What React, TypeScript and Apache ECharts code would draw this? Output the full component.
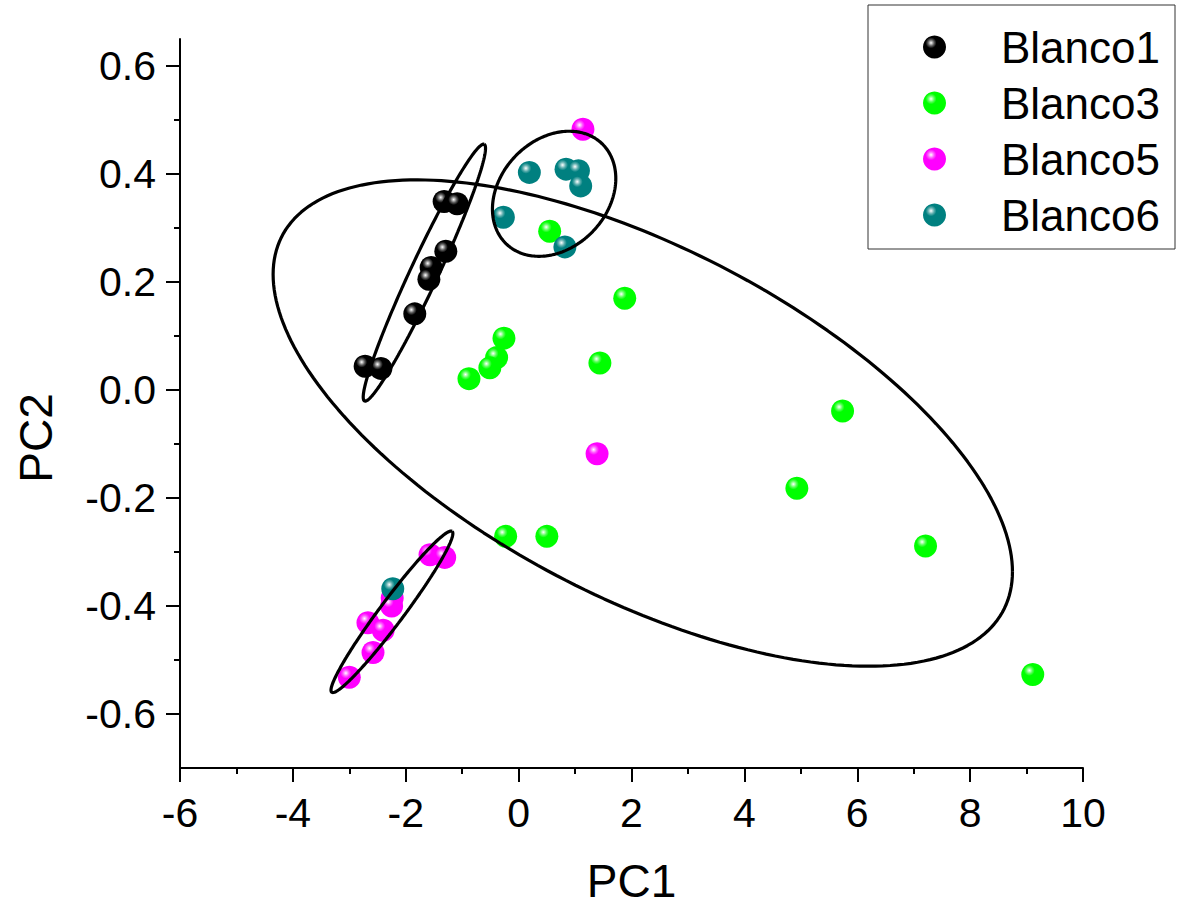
import React, { useEffect, useRef } from "react";
import * as echarts from "echarts";

// ---- data ----
const seriesNames = ["Blanco1", "Blanco3", "Blanco5", "Blanco6"];
const seriesColors = ["#000000", "#00ff00", "#ff00ff", "#008080"];

const blanco1X = [-1.32, -1.09, -1.29, -1.55, -1.59, -1.84, -2.72, -2.44];
const blanco1Y = [0.349, 0.345, 0.257, 0.227, 0.205, 0.141, 0.044, 0.04];

const blanco3X = [0.55, 1.88, -0.26, -0.39, -0.51, -0.88, 1.44, 5.74, 4.93, 7.21, 9.11, -0.23, 0.5];
const blanco3Y = [0.294, 0.17, 0.096, 0.06, 0.041, 0.021, 0.05, -0.039, -0.182, -0.289, -0.527, -0.271, -0.271];

const blanco5X = [1.14, 1.39, -1.57, -1.31, -2.24, -2.25, -2.67, -2.4, -2.58, -3.0];
const blanco5Y = [0.483, -0.118, -0.305, -0.31, -0.385, -0.4, -0.431, -0.445, -0.486, -0.532];

const blanco6X = [0.19, 0.84, 1.06, 1.1, -0.27, 0.82, -2.23];
const blanco6Y = [0.403, 0.409, 0.406, 0.378, 0.32, 0.265, -0.368];

// confidence ellipses: centre and two conjugate semi-axis vectors (data units)
const ellipseCX = [2.2, -1.67, 0.629, -2.245];
const ellipseCY = [-0.0612, 0.2173, 0.3634, -0.4108];
const ellipseUX = [6.55, 1.06, 1.0928, 1.0662];
const ellipseUY = [-0.2752, 0.2377, 0.0283, 0.149];
const ellipseVX = [0, 0.2251, 0, 0.1706];
const ellipseVY = [-0.3564, -0.01081, -0.1123, -0.01314];

const xMajorTicks = [-6, -4, -2, 0, 2, 4, 6, 8, 10];
const yMajorTicks = [-0.6, -0.4, -0.2, 0, 0.2, 0.4, 0.6];
const yMinorTicks = [-0.5, -0.3, -0.1, 0.1, 0.3, 0.5];

const FONT = '"Liberation Sans", Arial, sans-serif';

function mix(hex: string, other: string, t: number) {
  const p = (h: string) => [1, 3, 5].map((i) => parseInt(h.slice(i, i + 2), 16));
  const a = p(hex);
  const b = p(other);
  const c = a.map((v, i) => Math.round(v + (b[i] - v) * t));
  return "rgb(" + c.join(",") + ")";
}

function sphere(color: string) {
  return {
    type: "radial",
    x: 0.35,
    y: 0.32,
    r: 0.62,
    colorStops: [
      { offset: 0, color: "#ffffff" },
      { offset: 0.1, color: mix(color, "#ffffff", 0.7) },
      { offset: 0.22, color: mix(color, "#ffffff", 0.35) },
      { offset: 0.38, color: color },
      { offset: 1, color: color },
    ],
  };
}

function ellipsePoints(i: number) {
  const pts: number[][] = [];
  const n = 240;
  for (let k = 0; k <= n; k++) {
    const t = (k / n) * Math.PI * 2;
    pts.push([
      ellipseCX[i] + ellipseUX[i] * Math.cos(t) + ellipseVX[i] * Math.sin(t),
      ellipseCY[i] + ellipseUY[i] * Math.cos(t) + ellipseVY[i] * Math.sin(t),
    ]);
  }
  return pts;
}

const groupsX = [blanco1X, blanco3X, blanco5X, blanco6X];
const groupsY = [blanco1Y, blanco3Y, blanco5Y, blanco6Y];

export default function App() {
  const ref = useRef<HTMLDivElement>(null);
  useEffect(() => {
    if (!ref.current) return;
    const chart = echarts.init(ref.current, undefined, { renderer: "svg" });

    const ellipseSeries = ellipseCX.map((_, i) => ({
      type: "line",
      name: "ellipse" + i,
      data: ellipsePoints(i),
      showSymbol: false,
      symbol: "none",
      silent: true,
      lineStyle: { color: "#000", width: 3.2 },
      xAxisIndex: 0,
      yAxisIndex: 0,
    }));

    const scatterSeries = seriesNames.map((name, i) => ({
      type: "scatter",
      name,
      data: groupsX[i].map((x, k) => [x, groupsY[i][k]]),
      symbol: "circle",
      symbolSize: 23,
      itemStyle: { color: sphere(seriesColors[i]), opacity: 1 },
      xAxisIndex: 0,
      yAxisIndex: 0,
    }));

    chart.setOption({
      animation: false,
      grid: { left: 180, right: 97, top: 39, bottom: 137 },
      legend: {
        data: seriesNames,
        orient: "vertical",
        left: 868,
        top: 5,
        padding: [20, 15, 12, 55],
        itemWidth: 23,
        itemHeight: 23,
        itemGap: 12,
        borderColor: "#333",
        borderWidth: 1,
        itemStyle: { opacity: 1 },
        textStyle: {
          fontSize: 44,
          lineHeight: 44,
          fontFamily: FONT,
          color: "#000",
          padding: [0, 0, 0, 50],
        },
      },
      xAxis: {
        type: "value",
        min: -6,
        max: 10,
        interval: 2,
        name: "PC1",
        nameLocation: "middle",
        nameGap: 90,
        nameTextStyle: { fontSize: 46, fontFamily: FONT, color: "#000" },
        axisLine: { show: true, onZero: false, lineStyle: { color: "#000", width: 2 } },
        axisTick: { show: true, length: 14, lineStyle: { color: "#000", width: 2 } },
        minorTick: { show: true, splitNumber: 2, length: 6, lineStyle: { color: "#000", width: 2 } },
        splitLine: { show: false },
        axisLabel: {
          margin: 24,
          fontSize: 41,
          fontFamily: FONT,
          color: "#000",
          customValues: xMajorTicks,
        },
      },
      yAxis: [
        {
          type: "value",
          min: -0.7,
          max: 0.65,
          position: "left",
          axisLine: { show: true, onZero: false, lineStyle: { color: "#000", width: 2 } },
          axisTick: { show: true, length: 14, customValues: yMajorTicks, lineStyle: { color: "#000", width: 2 } },
          splitLine: { show: false },
          axisLabel: {
            margin: 24,
            fontSize: 41,
            fontFamily: FONT,
            color: "#000",
            customValues: yMajorTicks,
            formatter: (v: number) => (Math.abs(v) < 1e-9 ? "0.0" : v.toFixed(1)),
          },
        },
        {
          type: "value",
          min: -0.7,
          max: 0.65,
          position: "left",
          axisLine: { show: false, onZero: false },
          axisTick: { show: true, length: 6, customValues: yMinorTicks, lineStyle: { color: "#000", width: 2 } },
          splitLine: { show: false },
          axisLabel: { show: false },
        },
      ],
      graphic: [
        {
          type: "text",
          x: 36,
          y: 438,
          rotation: Math.PI / 2,
          style: {
            text: "PC2",
            fontSize: 46,
            fontFamily: FONT,
            fill: "#000",
            align: "center",
            verticalAlign: "middle",
          },
        },
      ],
      series: [...ellipseSeries, ...scatterSeries],
    });
    return () => chart.dispose();
  }, []);
  return (
    <div
      ref={ref}
      style={{ position: "fixed", left: 0, top: 0, width: 1180, height: 909, background: "#fff" }}
    />
  );
}
